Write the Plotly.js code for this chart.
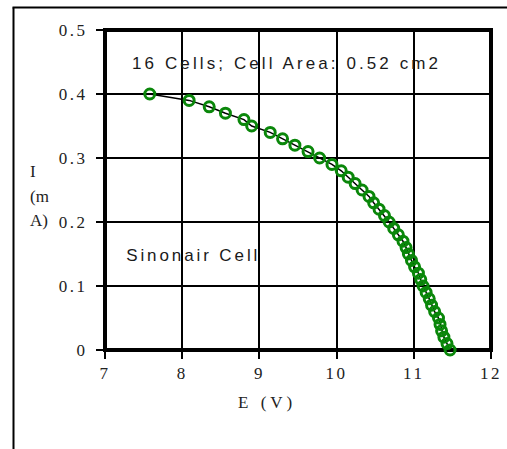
<!DOCTYPE html>
<html><head><meta charset="utf-8">
<script src="https://cdn.plot.ly/plotly-3.0.1.min.js"></script>
<style>
html,body{margin:0;padding:0;background:#fff;}
#chart{width:507px;height:449px;}
.xtick text,.ytick text{letter-spacing:2.5px;}
</style></head><body><div id="chart"></div>
<script>
// Data (E in volts, I in mA)
const voltage = [7.58, 8.09, 8.35, 8.56, 8.80, 8.90, 9.14, 9.30, 9.46, 9.63,
                 9.78, 9.94, 10.06, 10.15, 10.24, 10.33, 10.42, 10.48, 10.55, 10.62,
                 10.68, 10.74, 10.80, 10.86, 10.90, 10.93, 10.97, 11.01, 11.06, 11.09,
                 11.12, 11.16, 11.20, 11.23, 11.27, 11.32, 11.34, 11.36, 11.39, 11.43, 11.47];
const current = [0.40, 0.39, 0.38, 0.37, 0.36, 0.35, 0.34, 0.33, 0.32, 0.31,
                 0.30, 0.29, 0.28, 0.27, 0.26, 0.25, 0.24, 0.23, 0.22, 0.21,
                 0.20, 0.19, 0.18, 0.17, 0.16, 0.15, 0.14, 0.13, 0.12, 0.11,
                 0.10, 0.09, 0.08, 0.07, 0.06, 0.05, 0.04, 0.03, 0.02, 0.01, 0.00];
const xTicks = [7, 8, 9, 10, 11, 12];
const yTicks = [0, 0.1, 0.2, 0.3, 0.4, 0.5];
const yTickText = ["0", "0.1", "0.2", "0.3", "0.4", "0.5"];
const noteTop = "16 Cells; Cell Area: 0.52 cm2";
const noteCell = "Sinonair Cell";
const xTitle = "E (V)";
const yTitleLines = ["I", "(m", "A)"];

// layout geometry (pixels)
const W = 507, H = 449, L = 105, R = 491, T = 30, B = 350;
const px = x => (x - L) / (R - L);
const py = y => (B - y) / (B - T);

const serif = "Liberation Serif, Times New Roman, serif";
const sans = "Liberation Sans, Arial, sans-serif";

const trace = {
  x: voltage, y: current, type: 'scatter', mode: 'lines+markers',
  line: {color: '#000', width: 1.5},
  marker: {symbol: 'circle-open', size: 10, color: '#0a870a', line: {width: 3, color: '#0a870a'}},
  cliponaxis: false, hoverinfo: 'skip'
};

const annotations = [
  {xref: 'paper', yref: 'paper', x: px(286), y: py(64), xanchor: 'center', yanchor: 'middle',
   text: noteTop, showarrow: false, font: {family: sans, size: 17, color: '#1a1a1a'}},
  {xref: 'paper', yref: 'paper', x: px(192.5), y: py(255), xanchor: 'center', yanchor: 'middle',
   text: noteCell, showarrow: false, font: {family: sans, size: 17, color: '#1a1a1a'}},
  {xref: 'paper', yref: 'paper', x: px(267), y: py(402), xanchor: 'center', yanchor: 'middle',
   text: xTitle, showarrow: false, font: {family: serif, size: 17, color: '#222'}}
];
const yLinePos = [171.5, 196, 220];
yTitleLines.forEach((t, i) => annotations.push({
  xref: 'paper', yref: 'paper', x: px(28), y: py(yLinePos[i]), xanchor: 'left', yanchor: 'middle',
  text: t, showarrow: false, font: {family: serif, size: 17, color: '#222'}
}));

const shapes = [
  {type: 'rect', xref: 'paper', yref: 'paper', x0: 0, x1: 1, y0: 0, y1: 1,
   line: {color: '#000', width: 4}, layer: 'below'},
  {type: 'line', xref: 'paper', yref: 'paper', x0: px(13.5), x1: px(13.5), y0: py(7.5), y1: py(H + 2),
   line: {color: '#000', width: 2}},
  {type: 'line', xref: 'paper', yref: 'paper', x0: px(12.5), x1: px(W + 2), y0: py(7.5), y1: py(7.5),
   line: {color: '#000', width: 2}}
];

const layout = {
  width: W, height: H,
  margin: {l: L, r: W - R, t: T, b: H - B, pad: 0},
  paper_bgcolor: '#fff', plot_bgcolor: '#fff',
  showlegend: false,
  xaxis: {range: [7, 12], tickvals: xTicks, ticktext: xTicks.map(String),
          showgrid: true, gridcolor: '#000', gridwidth: 2, zeroline: false, showline: false,
          ticks: 'outside', ticklen: 8, tickwidth: 2, tickcolor: '#000', ticklabelstandoff: 0,
          tickfont: {family: serif, size: 17, color: '#222'}, fixedrange: true},
  yaxis: {range: [0, 0.5], tickvals: yTicks, ticktext: yTickText,
          showgrid: true, gridcolor: '#000', gridwidth: 2, zeroline: false, showline: false,
          ticks: 'outside', ticklen: 8, tickwidth: 2, tickcolor: '#000', ticklabelstandoff: 5,
          tickfont: {family: serif, size: 17, color: '#222'}, fixedrange: true},
  annotations: annotations,
  shapes: shapes
};

Plotly.newPlot('chart', [trace], layout, {displayModeBar: false, staticPlot: true}).then(gd => {
  gd.querySelectorAll('.annotation-text').forEach(el => {
    const t = el.textContent;
    if (t === noteTop) el.style.letterSpacing = '3.1px';
    else if (t === noteCell) el.style.letterSpacing = '2.9px';
    else if (t === xTitle) el.style.letterSpacing = '4px';
  });
});
</script></body></html>
